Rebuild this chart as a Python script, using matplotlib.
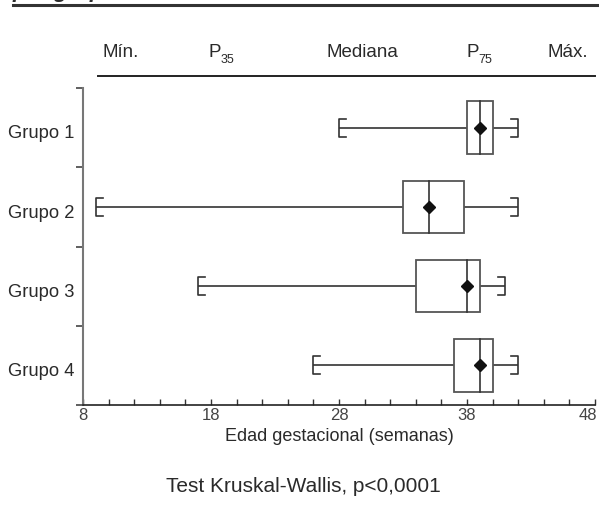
import matplotlib
matplotlib.use("Agg")
import matplotlib.pyplot as plt
from matplotlib.patches import Rectangle
from matplotlib.lines import Line2D
from matplotlib.transforms import ScaledTranslation

# ---------------- data ----------------
groups = ["Grupo 1", "Grupo 2", "Grupo 3", "Grupo 4"]
mins = [28, 9, 17, 26]
p_low = [38, 33, 34, 37]
medians = [39, 35, 38, 39]
p75 = [40, 37.8, 39, 40]
maxs = [42, 42, 41, 42]
means = [39, 35, 38, 39]
header_labels = ["Mín.", "P", "Mediana", "P", "Máx."]
header_subs = ["", "35", "", "75", ""]
xtick_major = [8, 18, 28, 38, 48]
xtick_minor = list(range(8, 49, 2))
xlabel = "Edad gestacional (semanas)"
footer = "Test Kruskal-Wallis, p<0,0001"
title_fragment = "por grupo"

plt.rcParams["font.family"] = ["Liberation Sans", "DejaVu Sans"]
TXT = "#2a2a2a"

W, H = 599, 515
fig = plt.figure(figsize=(W / 100, H / 100), dpi=100)
ax = fig.add_axes([83 / W, 110 / H, 512 / W, 317 / H])

def fx(px):
    return px / W

def fy(py):
    return 1 - py / H

n = len(groups)
ypos = [n - i for i in range(n)]  # Grupo 1 at top
box_h = 0.66
cap_h = 0.115
stub = 0.55

for y, lo, a, med, b, hi, mu in zip(ypos, mins, p_low, medians, p75, maxs, means):
    # whiskers
    ax.plot([lo, a], [y, y], color="#333333", lw=1.2, solid_capstyle="butt", zorder=2)
    ax.plot([b, hi], [y, y], color="#333333", lw=1.2, solid_capstyle="butt", zorder=2)
    # caps "[" and "]"
    ax.plot([lo + stub, lo, lo, lo + stub], [y + cap_h, y + cap_h, y - cap_h, y - cap_h],
            color="#333333", lw=1.2, zorder=2)
    ax.plot([hi - stub, hi, hi, hi - stub], [y + cap_h, y + cap_h, y - cap_h, y - cap_h],
            color="#333333", lw=1.2, zorder=2)
    # box
    ax.add_patch(Rectangle((a, y - box_h / 2), b - a, box_h, facecolor="white",
                           edgecolor="#555555", lw=1.3, zorder=3))
    # median
    ax.plot([med, med], [y - box_h / 2, y + box_h / 2], color="#333333", lw=1.2, zorder=4)
    # mean
    ax.plot([mu], [y], marker="D", markersize=6.2, color="#111111", zorder=5)

ax.set_xlim(8, 48)
ax.set_ylim(0.5, n + 0.5)

for s in ["top", "right"]:
    ax.spines[s].set_visible(False)
ax.spines["left"].set_color("#777777")
ax.spines["left"].set_linewidth(1.5)
ax.spines["bottom"].set_color("#222222")
ax.spines["bottom"].set_linewidth(1.2)

ax.set_xticks(xtick_major)
ax.set_xticklabels([str(v) for v in xtick_major])
ax.set_xticks(xtick_minor, minor=True)
ax.tick_params(axis="x", which="both", direction="in", length=4, width=1.0,
               color="#333333", labelsize=12, labelcolor="#444444", pad=2)
last = ax.get_xticklabels()[-1]
last.set_ha("right")
last.set_transform(last.get_transform() + ScaledTranslation(1.5 / 72, 0, fig.dpi_scale_trans))

ax.set_yticks([v + 0.5 for v in range(n + 1)])
ax.set_yticklabels([])
ax.set_yticks(ypos, minor=True)
ax.set_yticklabels(groups, minor=True)
ax.tick_params(axis="y", which="major", direction="out", length=5, width=1.2,
               color="#444444")
ax.tick_params(axis="y", which="minor", length=0, pad=6, labelsize=13.2,
               labelcolor=TXT)
for lbl in ax.get_yticklabels(minor=True):
    lbl.set_transform(lbl.get_transform() + ScaledTranslation(0, -3 / 72, fig.dpi_scale_trans))

ax.set_xlabel(xlabel, fontsize=13, color=TXT, labelpad=4)

# header
head_x = [120.5, 209, 362, 466, 567.5]
for lab, sub, x in zip(header_labels, header_subs, head_x):
    if sub:
        fig.text(fx(x), fy(57), lab, ha="left", va="baseline", fontsize=13.5, color=TXT)
        fig.text(fx(x + 12), fy(63), sub, ha="left", va="baseline", fontsize=9, color=TXT)
    else:
        fig.text(fx(x), fy(57), lab, ha="center", va="baseline", fontsize=13.5, color=TXT)

fig.add_artist(Line2D([fx(98), fx(595)], [fy(76), fy(76)], color="#222222", lw=1.4))
fig.add_artist(Line2D([fx(13), fx(599)], [fy(5), fy(5)], color="#333333", lw=2.2))
# top caption, cut off by the picture's edge in the reference (only descenders show)
fig.text(fx(12), fy(-3.5), title_fragment, ha="left", va="baseline", fontsize=16,
         style="italic", weight="bold", color=TXT)

fig.text(fx(303), fy(492), footer, ha="center", va="baseline", fontsize=15, color=TXT)

fig.savefig("out.png", dpi=100)
